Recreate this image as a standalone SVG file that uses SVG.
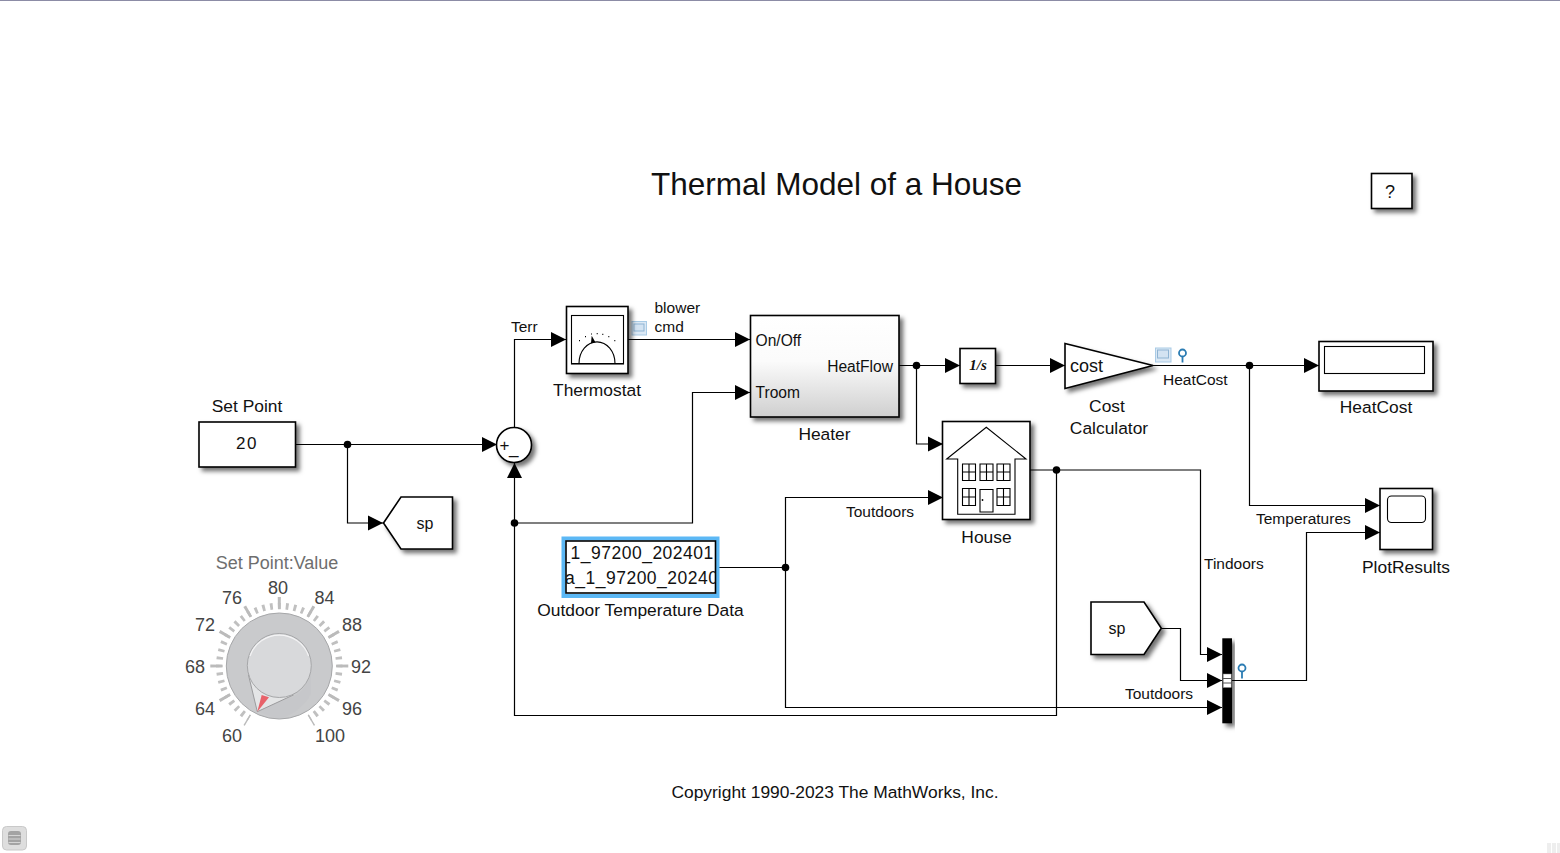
<svg xmlns="http://www.w3.org/2000/svg" width="1560" height="853" viewBox="0 0 1560 853">
<style>
text{font-family:"Liberation Sans",Arial,sans-serif;fill:#111}
.l{font-size:17.4px;text-anchor:middle}
.s{font-size:15.5px}
.p{font-size:15.6px}
.b{fill:#fff;stroke:#000;stroke-width:1.6}
.t{fill:none;stroke:#000;stroke-width:1.1}
.w{fill:none;stroke:#000;stroke-width:1.2}
.a{marker-end:url(#arr)}
.dial{font-size:18px;text-anchor:middle;fill:#444}
.d{fill:#000}
.badge{fill:#dbe8f4;stroke:#a9cbe6;stroke-width:1}
.badge2{fill:#d3e3f2;stroke:#8fb4d3;stroke-width:1}
.pr{fill:none;stroke:#2b7cb3;stroke-width:1.8}
</style>
<defs>
<marker id="arr" markerUnits="userSpaceOnUse" markerWidth="16" markerHeight="16" refX="15" refY="8" orient="auto"><path d="M0,0.5L15,8L0,15.500z" fill="#000"/></marker>
<filter id="sh" x="-20%" y="-20%" width="150%" height="150%"><feDropShadow dx="3.500" dy="3.500" stdDeviation="1.900" flood-color="#000" flood-opacity="0.55"/></filter>
<linearGradient id="hg" x1="0" y1="0" x2="0" y2="1"><stop offset="0" stop-color="#fff"/><stop offset="0.45" stop-color="#fbfbfb"/><stop offset="1" stop-color="#cfcfcf"/></linearGradient>
<clipPath id="dc"><rect x="566" y="541" width="149.500" height="52"/></clipPath>
</defs>
<rect width="1560" height="853" fill="#fff"/>
<rect width="1560" height="1" fill="#8c8ca6"/>

<g id="connectors">
<path class="w a" d="M296,444.500H497"/>
<path class="w a" d="M347.500,444.500V523H383"/>
<path class="w a" d="M514.500,427V339.500H566"/>
<path class="w a" d="M628,339.500H750"/>
<path class="w a" d="M514.500,523H692.500V392.500H750"/>
<path class="w a" d="M1056.500,470V715.500H514.500V463"/>
<path class="w a" d="M899,365.500H960"/>
<path class="w a" d="M916.500,365.500V444H943"/>
<path class="w a" d="M996,365.500H1065"/>
<path class="w a" d="M1153,365.500H1319"/>
<path class="w a" d="M1249.500,365.500V505.500H1380"/>
<path class="w a" d="M1030,470H1200.500V654.500H1222"/>
<path class="w a" d="M716,567.500H785.500V497.500H943"/>
<path class="w a" d="M785.500,567.500V707.500H1222"/>
<path class="w a" d="M1161,628.500H1180.500V680.500H1222"/>
<path class="w a" d="M1232,680.500H1306.500V532.500H1380"/>
<circle class="d" cx="347.500" cy="444.500" r="3.800"/>
<circle class="d" cx="514.500" cy="523" r="3.800"/>
<circle class="d" cx="916.500" cy="365.500" r="3.800"/>
<circle class="d" cx="1056.500" cy="470" r="3.800"/>
<circle class="d" cx="1249.500" cy="365.500" r="3.800"/>
<circle class="d" cx="785.500" cy="567.500" r="3.800"/>
<text class="s" x="511" y="332">Terr</text>
<text class="s" x="654.500" y="313">blower</text>
<text class="s" x="654.500" y="332">cmd</text>
<text class="s" x="1163" y="385">HeatCost</text>
<text class="s" x="846" y="517">Toutdoors</text>
<text class="s" x="1256" y="524">Temperatures</text>
<text class="s" x="1204" y="569">Tindoors</text>
<text class="s" x="1125" y="699">Toutdoors</text>
<rect class="badge" x="632" y="321.500" width="14.500" height="13.500"/><rect class="badge2" x="634" y="324" width="10" height="7"/>
<rect class="badge" x="1155.500" y="348" width="15.500" height="14"/><rect class="badge2" x="1157.500" y="350" width="11" height="8"/>
<circle class="pr" cx="1182.500" cy="353" r="3.500"/><path class="pr" d="M1182.500,356.500V362.500"/>
<circle class="pr" cx="1242" cy="668" r="3.500"/><path class="pr" d="M1242,671.500V678.500"/>
</g>

<g id="title"><text x="836.500" y="195" font-size="31.500" text-anchor="middle">Thermal Model of a House</text></g>
<g id="help"><rect class="b" x="1371.500" y="173.500" width="40.500" height="35" filter="url(#sh)"/><text x="1390" y="198" font-size="18" text-anchor="middle">?</text></g>

<g id="setpoint"><rect class="b" x="199" y="422" width="96.500" height="45" filter="url(#sh)"/><text x="247" y="449" font-size="17" letter-spacing="1.500" text-anchor="middle">20</text><text class="l" x="247" y="412">Set Point</text></g>
<g id="goto-sp"><path class="b" d="M383.500,523L401,497H452.500V549H401z" filter="url(#sh)"/><text x="425" y="529" font-size="16" text-anchor="middle">sp</text></g>
<g id="sum"><circle class="b" cx="514" cy="445" r="17.500" filter="url(#sh)"/><text x="499.500" y="451" font-size="17">+</text><text x="509" y="454" font-size="17">_</text></g>

<g id="thermostat"><rect class="b" x="566.500" y="306.500" width="61.500" height="67" filter="url(#sh)"/><rect class="t" x="571.500" y="315.500" width="52" height="48.500"/>
<path class="t" d="M571.500,363.500H623.500M579,363.500A18,21.600 0 0 1 615,363.500"/>
<path d="M591.700,335.700L591,343.300L595.300,342z" fill="#000"/>
<path d="M579,340.700h1M585,336.700h1M591,334h1M596.700,333.700h1M602.300,334.300h1M608.300,336.700h1M614.300,340.700h1" stroke="#000" stroke-width="1.200" fill="none"/>
<text class="l" x="597" y="396">Thermostat</text></g>

<g id="heater"><rect x="750.500" y="315.500" width="148.500" height="101.500" fill="url(#hg)" stroke="#000" stroke-width="1.600" filter="url(#sh)"/>
<text class="p" x="755.500" y="346">On/Off</text><text class="p" x="893" y="372" text-anchor="end">HeatFlow</text><text class="p" x="755.500" y="398">Troom</text><text class="l" x="824.500" y="440">Heater</text></g>

<g id="integrator"><rect class="b" x="960" y="348.500" width="35.500" height="35" filter="url(#sh)"/><text x="978" y="370" font-size="15" text-anchor="middle" style="font-family:'Liberation Serif',serif;font-weight:bold;font-style:italic">1/s</text></g>
<g id="cost"><path class="b" d="M1065,343.500L1153,365.500L1065,388.500z" filter="url(#sh)"/><text x="1070" y="372" font-size="18">cost</text><text class="l" x="1107" y="412">Cost</text><text class="l" x="1109" y="434">Calculator</text></g>
<g id="display"><rect class="b" x="1319" y="341.500" width="114" height="49.500" filter="url(#sh)"/><rect class="t" x="1324.500" y="346.500" width="100" height="27"/><text class="l" x="1376" y="413">HeatCost</text></g>
<g id="plotresults"><rect class="b" x="1380" y="488.500" width="52.500" height="61" filter="url(#sh)"/><rect class="t" x="1387.500" y="496" width="38" height="26.500" rx="4"/><text class="l" x="1406" y="573">PlotResults</text></g>

<g id="house"><rect class="b" x="942.500" y="421.500" width="87.500" height="98" filter="url(#sh)"/>
<path class="t" stroke-width="1.200" d="M957.700,459H946.700L986.300,427.300L1026,459H1015V514.300H957.700z"/>
<path class="t" d="M962.500,464h13v16.500h-13zM969,464v16.500M962.500,472h13M980,464h13v16.500h-13zM986.500,464v16.500M980,472h13M997,464h13v16.500h-13zM1003.500,464v16.500M997,472h13M962.500,488.500h13v17h-13zM969,488.500v17M962.500,497h13M997,488.500h13v17h-13zM1003.500,488.500v17M997,497h13M980,489.500h13v22.500h-13z"/>
<circle cx="982.500" cy="500" r="0.900" fill="#000"/>
<text class="l" x="986.500" y="543">House</text></g>

<g id="data"><rect x="563.500" y="538.500" width="154" height="57.500" fill="#fff" stroke="#5cb8f5" stroke-width="4"/><rect class="b" x="566" y="541" width="149.500" height="52"/>
<g clip-path="url(#dc)" font-size="17.500" letter-spacing="0.500"><text x="560.300" y="559">_1_97200_202401</text><text x="565" y="584">a_1_97200_20240</text></g>
<text class="l" x="640.500" y="616">Outdoor Temperature Data</text></g>

<g id="goto-from-sp"><path class="b" d="M1091,602H1144L1161.300,628.300L1144,654.500H1091z" filter="url(#sh)"/><text x="1117" y="634" font-size="16" text-anchor="middle">sp</text></g>
<g id="mux"><rect x="1222.300" y="638.300" width="9.700" height="85" fill="#000" filter="url(#sh)"/><rect x="1223.200" y="674" width="8" height="13.500" fill="#fff" stroke="#888" stroke-width="0.500"/><path d="M1223,678.500h8.300M1223,683h8.300" stroke="#555" stroke-width="1"/></g>

<g id="knob">
<text x="277" y="569" font-size="18" text-anchor="middle" style="fill:#6e6e6e">Set Point:Value</text>
<path d="M249.300,717.960A60,60 0 1 1 309.300,717.960" fill="none" stroke="#c0c0c0" stroke-width="6.500" pathLength="300" stroke-dasharray="2.700 4.800" stroke-dashoffset="1.350"/>
<path d="M247.800,720.560A63,63 0 1 1 310.800,720.560" fill="none" stroke="#bbb" stroke-width="12" pathLength="300" stroke-dasharray="2.600 27.400" stroke-dashoffset="1.300"/>
<circle cx="279.300" cy="666" r="53" fill="#c9cacc" stroke="#a6a7a9" stroke-width="1"/>
<path d="M257.300,711.700L248.300,676.700A32,32 0 0 0 311,670V694A53,53 0 0 1 279,719z" fill="#bfc0c2" opacity="0.2"/>
<path d="M257.300,711.700L248.500,675L293.300,695z" fill="#e4e5e6" stroke="#9b9b9d" stroke-width="1"/>
<path d="M257.300,711.700L261.700,695L269,697.300z" fill="#e8626a"/>
<circle cx="279.300" cy="665.500" r="32" fill="#d8d9db" stroke="#a6a7a9" stroke-width="1"/>
<path d="M250,656A31,31 0 0 1 308.600,656" fill="none" stroke="#f4f4f5" stroke-width="1.200"/>
<text class="dial" x="232" y="604">76</text><text class="dial" x="205" y="631">72</text><text class="dial" x="195" y="673">68</text><text class="dial" x="205" y="715">64</text><text class="dial" x="232" y="742">60</text><text class="dial" x="278" y="594">80</text><text class="dial" x="324.500" y="604">84</text><text class="dial" x="352" y="631">88</text><text class="dial" x="361" y="673">92</text><text class="dial" x="352" y="715">96</text><text class="dial" x="330" y="742">100</text>
</g>

<g id="copyright"><text class="l" x="835" y="798">Copyright 1990-2023 The MathWorks, Inc.</text></g>

<g id="statusbar"><rect x="2.500" y="826.500" width="24" height="23.500" rx="4" fill="#dedede" stroke="#c9c9c9"/><rect x="8" y="831" width="13" height="14" rx="3" fill="#a3a3a3"/><path d="M8.500,835.500h12M8.500,839h12M8.500,842.500h12" stroke="#d5d5d5" stroke-width="1"/>
<path d="M1547,843h4v10h-4zM1552,843h4v10h-4zM1557,843h3v10h-3z" fill="#eee"/></g>
</svg>
